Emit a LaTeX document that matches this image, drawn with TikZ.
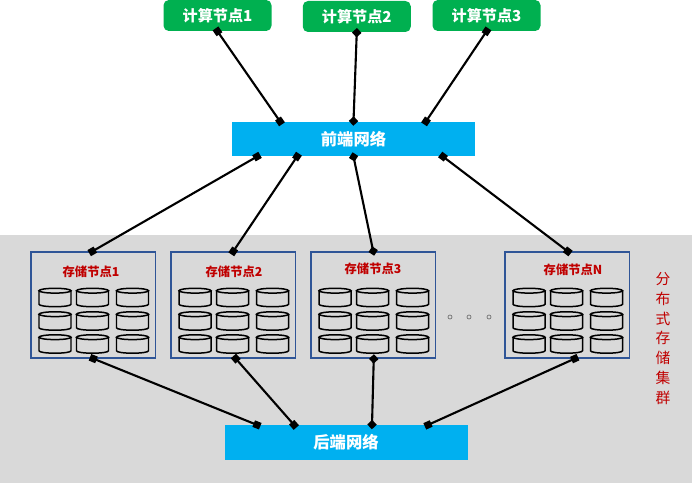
\documentclass[tikz,border=0pt]{standalone}
\usepackage{fontspec}
\setmainfont{Noto Sans CJK SC}
\usetikzlibrary{arrows.meta}
\newcommand{\pxu}{0.02cm}
\definecolor{clusterbg}{HTML}{D9D9D9}
\definecolor{nodegreen}{HTML}{00B050}
\definecolor{netblue}{HTML}{00B0F0}
\definecolor{boxblue}{HTML}{2F5597}
\definecolor{labelred}{HTML}{C00000}
\tikzset{
  compute/.style={fill=nodegreen,rounded corners=3pt,text=white,font=\fontsize{8.6}{11}\selectfont\bfseries,
    minimum width=108*\pxu,minimum height=31*\pxu,inner sep=0pt},
  network/.style={fill=netblue,text=white,font=\fontsize{9.3}{11}\selectfont\bfseries,
    minimum width=243*\pxu,minimum height=34.5*\pxu,inner sep=0pt},
  storage/.style={draw=boxblue,line width=0.7pt,minimum width=124.5*\pxu,minimum height=106*\pxu,inner sep=0pt},
  storagelabel/.style={text=labelred,font=\fontsize{7}{9}\selectfont\bfseries,inner sep=0pt},
  dotmark/.style={circle,draw=black!55,line width=0.4pt,minimum size=4*\pxu,inner sep=0pt},
  link/.style={line width=1.2pt,shorten <=-2pt,shorten >=-2pt,
    {Square[length=4pt,width=4pt]}-{Square[length=4pt,width=4pt]}},
  vlink/.style={line width=1.2pt,shorten <=-2.5pt,shorten >=-2.5pt,
    {Turned Square[length=5.4pt,width=5.4pt]}-{Turned Square[length=5.4pt,width=5.4pt]}},
  pics/disk/.style={code={
    \draw[black,line width=0.85pt] (0,-6.8) ellipse [x radius=16,y radius=2.4];
    \draw[black,line width=0.85pt] (-16,-6.8) -- (-16,6.8)
      arc [start angle=180,end angle=0,x radius=16,y radius=2.4] -- (16,-6.8);
  }},
}
\begin{document}
\begin{tikzpicture}[x=0.02cm,y=-0.02cm]
  \useasboundingbox (0,0) rectangle (692,483);
  \fill[clusterbg] (0,235) rectangle (692,483);

  \node[compute] (c1) at (217.5,15.5) {计算节点1};
  \node[compute] (c2) at (356.75,16.5) {计算节点2};
  \node[compute] (c3) at (486.5,15.5) {计算节点3};
  \node[network] (front) at (353.5,139) {前端网络};
  \node[network] (back) at (346,442.5) {后端网络};

  % storage boxes with their nine disks
  \foreach \nm/\lx/\txt/\tx/\ty in {1/31/存储节点1/91/272,2/171/存储节点2/234/272,
      3/311/存储节点3/373/269,N/505/存储节点N/573/270} {
    \node[storage] (s\nm) at (\lx+62.25,305) {};
    \node[storagelabel] (t\nm) at (\tx,\ty) {\txt};
    \foreach \i in {24,61.5,101.5}
      \foreach \j in {297.5,321,344}
        \pic at (\lx+\i,\j) {disk};
  }

  \node[dotmark] (o1) at (450,317) {};
  \node[dotmark] (o2) at (469,317) {};
  \node[dotmark] (o3) at (489,317) {};

  \node[text=labelred,font=\fontsize{8.4}{11.35}\selectfont,align=center,inner sep=0pt] (cluster) at (663,338.5)
    {分\\布\\式\\存\\储\\集\\群};

  \foreach \a/\da/\b/\db in {c1.south/0/front.north/-73.5,c3.south/0/front.north/72.5,
      front.south/-96.5/s1.north/-1,front.south/-56.5/s2.north/0,front.south/89.5/sN.north/0.5,
      s1.south/0/back.north/-89,s2.south/2.5/back.north/-52,sN.south/7.5/back.north/82}
    \draw[link] ([xshift=\da*\pxu]\a) -- ([xshift=\db*\pxu]\b);

  \foreach \a/\da/\b/\db in {c2.south/0/front.north/0,front.south/0/s3.north/0,s3.south/0.5/back.north/26}
    \draw[vlink] ([xshift=\da*\pxu]\a) -- ([xshift=\db*\pxu]\b);
\end{tikzpicture}
\end{document}
